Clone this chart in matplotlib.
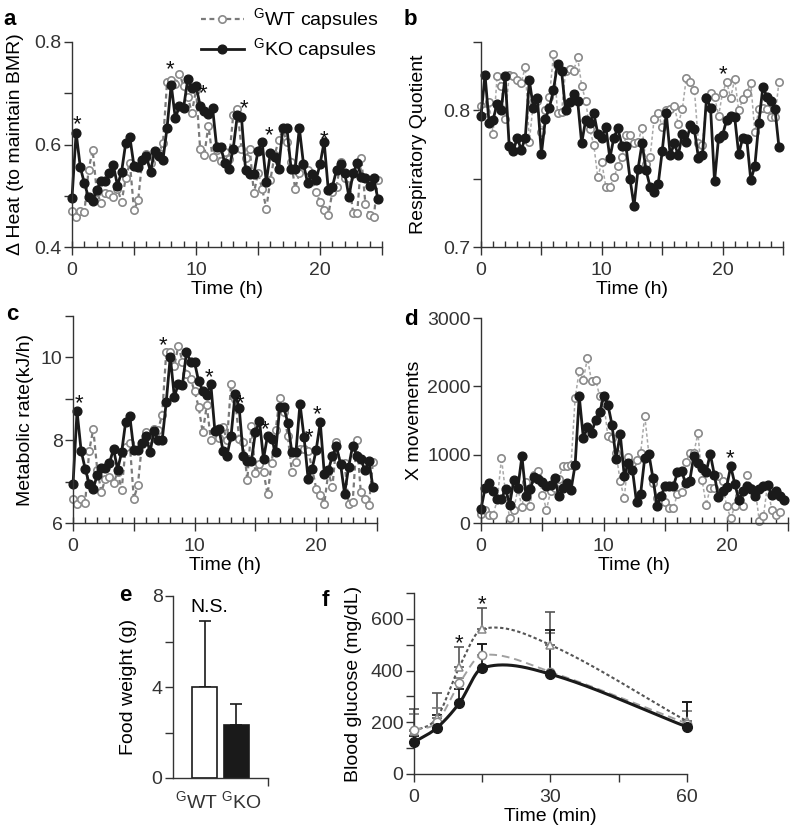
import numpy as np
import matplotlib
matplotlib.use("Agg")
import matplotlib.pyplot as plt
from matplotlib.ticker import MultipleLocator, FixedLocator, FixedFormatter

plt.rcParams["font.family"] = "Liberation Sans"
plt.rcParams["mathtext.fontset"] = "custom"
plt.rcParams["mathtext.rm"] = "Liberation Sans"
plt.rcParams["font.size"] = 14
plt.rcParams["axes.linewidth"] = 1.0
plt.rcParams["axes.edgecolor"] = "#333333"
plt.rcParams["xtick.color"] = "#333333"
plt.rcParams["ytick.color"] = "#333333"

# %% data (20-min samples over 25 h)
a_wt = [0.470, 0.459, 0.471, 0.468, 0.550, 0.589, 0.508, 0.485, 0.505, 0.503,
        0.498, 0.514, 0.488, 0.535, 0.564, 0.472, 0.491, 0.570, 0.581, 0.563,
        0.584, 0.584, 0.602, 0.722, 0.725, 0.719, 0.738, 0.714, 0.693, 0.662,
        0.707, 0.592, 0.579, 0.637, 0.576, 0.589, 0.568, 0.586, 0.571, 0.657,
        0.670, 0.592, 0.573, 0.592, 0.505, 0.544, 0.514, 0.475, 0.531, 0.579,
        0.608, 0.628, 0.605, 0.566, 0.514, 0.544, 0.560, 0.550, 0.531, 0.508,
        0.488, 0.472, 0.462, 0.508, 0.518, 0.566, 0.534, 0.534, 0.466, 0.466,
        0.573, 0.483, 0.462, 0.458, 0.531]
a_ko = [0.496, 0.623, 0.556, 0.524, 0.497, 0.490, 0.511, 0.529, 0.529, 0.544,
        0.560, 0.520, 0.547, 0.603, 0.614, 0.558, 0.556, 0.570, 0.577, 0.547,
        0.588, 0.577, 0.570, 0.633, 0.717, 0.651, 0.676, 0.672, 0.727, 0.711,
        0.714, 0.676, 0.665, 0.659, 0.672, 0.595, 0.595, 0.563, 0.552, 0.592,
        0.657, 0.653, 0.550, 0.542, 0.542, 0.588, 0.605, 0.527, 0.584, 0.576,
        0.553, 0.632, 0.632, 0.553, 0.553, 0.632, 0.562, 0.525, 0.542, 0.530,
        0.561, 0.605, 0.512, 0.518, 0.550, 0.562, 0.544, 0.498, 0.544, 0.563,
        0.537, 0.534, 0.519, 0.534, 0.494]
a_star_t = [0.38, 7.87, 10.6, 13.9, 15.9, 20.3]
a_star_y = [0.650, 0.757, 0.710, 0.680, 0.628, 0.620]

b_wt = [0.803, 0.800, 0.806, 0.783, 0.825, 0.818, 0.794, 0.826, 0.825, 0.822,
        0.820, 0.832, 0.777, 0.806, 0.807, 0.784, 0.800, 0.810, 0.841, 0.798,
        0.799, 0.829, 0.830, 0.829, 0.839, 0.818, 0.807, 0.786, 0.775, 0.751,
        0.762, 0.744, 0.744, 0.751, 0.759, 0.766, 0.782, 0.782, 0.776, 0.777,
        0.787, 0.761, 0.766, 0.794, 0.798, 0.788, 0.800, 0.801, 0.803, 0.790,
        0.801, 0.824, 0.821, 0.815, 0.776, 0.775, 0.810, 0.813, 0.810, 0.796,
        0.813, 0.821, 0.809, 0.823, 0.800, 0.808, 0.813, 0.820, 0.784, 0.801,
        0.802, 0.801, 0.795, 0.795, 0.821]
b_ko = [0.796, 0.826, 0.791, 0.793, 0.805, 0.800, 0.825, 0.774, 0.770, 0.780,
        0.771, 0.780, 0.822, 0.802, 0.809, 0.768, 0.794, 0.802, 0.815, 0.834,
        0.829, 0.800, 0.806, 0.812, 0.807, 0.776, 0.793, 0.791, 0.798, 0.783,
        0.780, 0.788, 0.765, 0.780, 0.787, 0.774, 0.774, 0.750, 0.730, 0.757,
        0.776, 0.756, 0.744, 0.740, 0.746, 0.770, 0.798, 0.767, 0.776, 0.767,
        0.783, 0.777, 0.789, 0.786, 0.765, 0.767, 0.809, 0.802, 0.748, 0.780,
        0.782, 0.793, 0.796, 0.795, 0.768, 0.780, 0.779, 0.749, 0.759, 0.791,
        0.817, 0.810, 0.807, 0.801, 0.773]
b_star_t = [20.05]
b_star_y = [0.830]

c_wt = [6.59, 6.47, 6.59, 6.48, 7.75, 8.27, 7.27, 6.75, 7.07, 7.11,
        6.96, 7.23, 6.80, 7.83, 7.93, 6.59, 6.91, 7.90, 8.19, 8.03,
        8.27, 8.25, 8.62, 10.12, 10.14, 9.80, 10.28, 9.90, 9.61, 9.48,
        9.18, 8.80, 8.19, 8.84, 8.01, 8.23, 8.06, 8.31, 8.00, 9.36,
        9.00, 8.03, 7.95, 7.04, 8.35, 7.20, 7.43, 7.23, 6.69, 7.45,
        8.25, 9.02, 8.67, 8.09, 7.23, 7.47, 7.79, 7.79, 7.75, 7.31,
        6.83, 6.67, 6.47, 7.23, 6.87, 7.95, 7.39, 7.45, 6.47, 6.51,
        8.01, 6.75, 6.59, 6.43, 7.47]
c_ko = [6.93, 8.70, 7.75, 7.31, 6.95, 6.83, 7.17, 7.33, 7.33, 7.45,
        7.79, 7.29, 7.71, 8.45, 8.59, 7.77, 7.77, 7.93, 8.11, 7.71,
        8.23, 8.00, 8.00, 8.92, 10.02, 9.05, 9.36, 9.33, 10.14, 9.88,
        9.88, 9.42, 9.20, 9.10, 9.36, 8.23, 8.27, 7.75, 7.63, 8.11,
        9.12, 8.78, 7.63, 7.49, 7.49, 8.19, 8.47, 7.55, 8.11, 8.03,
        7.71, 8.81, 8.81, 8.41, 7.71, 7.71, 8.88, 8.07, 7.07, 7.31,
        7.77, 8.43, 7.19, 7.27, 7.63, 7.85, 7.43, 6.71, 7.35, 7.87,
        7.63, 7.55, 7.27, 7.49, 6.87]
c_star_t = [0.47, 7.37, 11.2, 13.7, 15.75, 19.4, 20.05]
c_star_y = [9.02, 10.42, 9.65, 9.02, 8.38, 8.20, 8.74]

d_wt = [132, 195, 122, 122, 350, 951, 439, 73, 195, 498,
        234, 595, 244, 707, 756, 415, 195, 463, 512, 650,
        829, 840, 854, 1829, 2229, 2098, 2415, 2073, 2098, 1854,
        1756, 1268, 1244, 1024, 610, 366, 966, 878, 927, 1024,
        1571, 1015, 585, 366, 317, 302, 220, 220, 429, 449,
        888, 1024, 1024, 1317, 634, 268, 512, 512, 683, 610,
        244, 73, 244, 400, 244, 707, 512, 488, 24, 98,
        561, 195, 122, 156]
d_ko = [205, 512, 585, 463, 351, 351, 498, 268, 624, 512,
        976, 390, 498, 673, 644, 600, 537, 561, 659, 390,
        512, 585, 488, 854, 1854, 1244, 1400, 1317, 1512, 1620,
        1854, 1732, 1439, 937, 1307, 693, 878, 780, 302, 429,
        951, 1015, 659, 254, 400, 546, 546, 537, 741, 756,
        585, 620, 985, 878, 805, 741, 1015, 707, 380, 463,
        527, 829, 576, 341, 463, 546, 498, 390, 498, 537,
        561, 415, 463, 390, 341]
d_star_t = [20.3]
d_star_y = [1024]

e_groups = ["$^{\\mathrm{G}}$WT", "$^{\\mathrm{G}}$KO"]
e_mean = [4.0, 2.35]
e_err = [2.9, 0.9]

f_time = [0, 5, 10, 15, 30, 60]
f_ko = [123, 178, 275, 410, 386, 182]
f_ko_err = [25, 52, 52, 93, 169, 96]
f_wt = [171, 200, 351, 460, 395, 195]
f_wt_err = [60, 56, 20, 43, 150, 48]
f_tri = [165, 217, 415, 561, 499, 204]
f_tri_err = [85, 97, 78, 80, 127, 74]
f_star_t = [10, 15]
f_star_y = [525, 678]

# %% layout helpers
W, H = 800, 835
fig = plt.figure(figsize=(W / 100, H / 100), dpi=100)


def add_ax(left, top, right, bottom):
    ax = fig.add_axes([left / W, 1 - bottom / H, (right - left) / W, (bottom - top) / H])
    ax.spines["top"].set_visible(False)
    ax.spines["right"].set_visible(False)
    ax.tick_params(axis="y", direction="out", length=5.5, width=1.0, pad=2)
    ax.tick_params(axis="x", direction="out", length=5.5, width=1.0, pad=4)
    return ax


def set_yticks(ax, lo, hi, step, labels):
    ticks = np.round(np.arange(lo, hi + step / 2, step), 6)
    ax.set_ylim(lo, hi)
    ax.yaxis.set_major_locator(FixedLocator(ticks))
    ax.yaxis.set_major_formatter(FixedFormatter(labels))


def time_axis(ax):
    ax.set_xlim(0, 25)
    ax.xaxis.set_major_locator(FixedLocator([0, 5, 10, 15, 20, 25]))
    ax.xaxis.set_major_formatter(FixedFormatter(["0", "", "10", "", "20", ""]))
    ax.xaxis.set_minor_locator(MultipleLocator(1))
    ax.xaxis.remove_overlapping_locs = False
    ax.tick_params(axis="x", which="major", direction="out", length=6, pad=5)
    ax.tick_params(axis="x", which="minor", direction="in", length=4, width=1.0)
    ax.set_xlabel("Time (h)", labelpad=1)


def stars(ax, ts, ys):
    for t, y in zip(ts, ys):
        ax.annotate("*", (t, y), xytext=(0, -8), textcoords="offset points",
                    ha="center", va="baseline", fontsize=16, color="#111111",
                    annotation_clip=False)


def time_panel(ax, wt, ko, wt_color, wt_edge, wt_lw):
    t_wt = np.arange(len(wt)) / 3
    t_ko = np.arange(len(ko)) / 3
    l1, = ax.plot(t_wt, wt, ls=(0, (2.2, 1.6)), color=wt_color, lw=wt_lw,
                  marker="o", ms=5.3, mfc="white", mec=wt_edge, mew=1.2,
                  clip_on=False, label="$^{\\mathrm{G}}$WT capsules")
    l2, = ax.plot(t_ko, ko, "-", color="#1a1a1a", lw=2.0, marker="o", ms=6.3,
                  mfc="#1a1a1a", mec="#1a1a1a", clip_on=False,
                  label="$^{\\mathrm{G}}$KO capsules")
    return l1, l2


def smooth(x, y, n=300):
    # cubic Hermite curve through the measured points (Catmull-Rom tangents)
    x = np.asarray(x, float)
    y = np.asarray(y, float)
    m = np.empty_like(y)
    m[0] = (y[1] - y[0]) / (x[1] - x[0])
    m[-1] = (y[-1] - y[-2]) / (x[-1] - x[-2])
    m[1:-1] = (y[2:] - y[:-2]) / (x[2:] - x[:-2])
    xs = np.linspace(x[0], x[-1], n)
    seg = np.clip(np.searchsorted(x, xs) - 1, 0, len(x) - 2)
    h = x[seg + 1] - x[seg]
    s = (xs - x[seg]) / h
    h00 = 2 * s**3 - 3 * s**2 + 1
    h10 = s**3 - 2 * s**2 + s
    h01 = -2 * s**3 + 3 * s**2
    h11 = s**3 - s**2
    ys = h00 * y[seg] + h10 * h * m[seg] + h01 * y[seg + 1] + h11 * h * m[seg + 1]
    return xs, ys


# %% a
ax_a = add_ax(72, 42, 382, 247)
time_axis(ax_a)
set_yticks(ax_a, 0.4, 0.8, 0.1, ["0.4", "", "0.6", "", "0.8"])
h_wt, h_ko = time_panel(ax_a, a_wt, a_ko, "#7a7a7a", "#8a8a8a", 1.6)
stars(ax_a, a_star_t, a_star_y)
ax_a.set_ylabel("\u0394 Heat (to maintain BMR)")
ax_a.yaxis.set_label_coords(-0.155, 0.5)
fig.legend([h_wt, h_ko], [h_wt.get_label(), h_ko.get_label()], loc="upper left",
           bbox_to_anchor=(201 / W, 1 - 6 / H), frameon=False, handlelength=2.2,
           handletextpad=0.5, labelspacing=0.2, borderpad=0, borderaxespad=0,
           fontsize=14)

# %% b
ax_b = add_ax(481, 42, 783, 247)
time_axis(ax_b)
set_yticks(ax_b, 0.7, 0.85, 0.05, ["0.7", "", "0.8", ""])
time_panel(ax_b, b_wt, b_ko, "#a8a8a8", "#8a8a8a", 1.1)
stars(ax_b, b_star_t, b_star_y)
ax_b.set_ylabel("Respiratory Quotient")
ax_b.yaxis.set_label_coords(-0.179, 0.5)

# %% c
ax_c = add_ax(73, 316, 377, 523)
time_axis(ax_c)
set_yticks(ax_c, 6, 11, 1, ["6", "", "8", "", "10", ""])
time_panel(ax_c, c_wt, c_ko, "#7a7a7a", "#8a8a8a", 1.6)
stars(ax_c, c_star_t, c_star_y)
ax_c.set_ylabel("Metabolic rate(kJ/h)")
ax_c.yaxis.set_label_coords(-0.128, 0.5)

# %% d
ax_d = add_ax(481, 318, 788, 523)
time_axis(ax_d)
set_yticks(ax_d, 0, 3000, 1000, ["0", "1000", "2000", "3000"])
time_panel(ax_d, d_wt, d_ko, "#a8a8a8", "#8a8a8a", 1.1)
stars(ax_d, d_star_t, d_star_y)
ax_d.set_ylabel("X movements")
ax_d.yaxis.set_label_coords(-0.19, 0.5)

# %% e
ax_e = add_ax(173, 596, 268, 778)
set_yticks(ax_e, 0, 8, 2, ["0", "", "4", "", "8"])
ax_e.set_xlim(0, 3)
xpos = [1, 2]
ax_e.bar(xpos, e_mean, width=0.8, color=["white", "#1a1a1a"], edgecolor="#1a1a1a",
         linewidth=1.2, zorder=2)
ax_e.errorbar(xpos, e_mean, yerr=[np.zeros(2), e_err], fmt="none", ecolor="#1a1a1a",
              elinewidth=1.2, capsize=4.5, capthick=1.2, zorder=1)
ax_e.set_xticks([0.73, 2.17])
ax_e.set_xticklabels(e_groups)
ax_e.tick_params(axis="x", which="major", length=0, pad=9)
ax_e.xaxis.set_minor_locator(FixedLocator([3]))
ax_e.tick_params(axis="x", which="minor", direction="out", length=5.5, width=1.0)
ax_e.text(1.15, 7.3, "N.S.", ha="center", va="baseline", fontsize=14)
ax_e.set_ylabel("Food weight (g)")
ax_e.yaxis.set_label_coords(-0.38, 0.5)

# %% f
ax_f = add_ax(414, 593, 687, 774)
set_yticks(ax_f, 0, 700, 100, ["0", "", "200", "", "400", "", "600", ""])
ax_f.set_xlim(0, 60)
ax_f.xaxis.set_major_locator(FixedLocator([0, 15, 30, 45, 60]))
ax_f.xaxis.set_major_formatter(FixedFormatter(["0", "", "30", "", "60"]))
ax_f.tick_params(axis="x", pad=5)
ax_f.set_xlabel("Time (min)", labelpad=2)

ax_f.errorbar(f_time, f_tri, yerr=[np.zeros(6), f_tri_err], fmt="none", ecolor="#555555",
              elinewidth=1.2, capsize=3.5, capthick=1.2, zorder=1, clip_on=False)
ax_f.errorbar(f_time, f_wt, yerr=[np.zeros(6), f_wt_err], fmt="none", ecolor="#777777",
              elinewidth=1.2, capsize=3.5, capthick=1.2, zorder=1, clip_on=False)
ax_f.errorbar(f_time, f_ko, yerr=[np.zeros(6), f_ko_err], fmt="none", ecolor="#1a1a1a",
              elinewidth=1.3, capsize=3.5, capthick=1.3, zorder=1, clip_on=False)

xs, ys = smooth(f_time, f_tri)
ax_f.plot(xs, ys, ls=(0, (1.6, 1.2)), color="#555555", lw=1.5, zorder=2)
ax_f.plot(f_time, f_tri, ls="none", marker="^", ms=6, mfc="white", mec="#888888",
          mew=1.1, zorder=3, clip_on=False)
xs, ys = smooth(f_time, f_wt)
ax_f.plot(xs, ys, ls=(0, (4, 2.5)), color="#a0a0a0", lw=1.4, zorder=2)
ax_f.plot(f_time, f_wt, ls="none", marker="o", ms=6, mfc="white", mec="#8a8a8a",
          mew=1.1, zorder=3, clip_on=False)
xs, ys = smooth(f_time, f_ko)
ax_f.plot(xs, ys, "-", color="#1a1a1a", lw=2.2, zorder=4)
ax_f.plot(f_time, f_ko, ls="none", marker="o", ms=7, mfc="#1a1a1a", mec="#1a1a1a",
          zorder=5, clip_on=False)
stars(ax_f, f_star_t, f_star_y)
ax_f.set_ylabel("Blood glucose (mg/dL)")
ax_f.yaxis.set_label_coords(-0.19, 0.5)

# %% panel letters
for x, y, s in [(3, 25, "a"), (404, 25, "b"), (6, 320, "c"), (404, 325, "d"),
                (119, 601, "e"), (322, 606, "f")]:
    fig.text(x / W, 1 - y / H, s, fontsize=16, fontweight="bold", ha="left", va="baseline")

fig.savefig("out.png", dpi=100)
